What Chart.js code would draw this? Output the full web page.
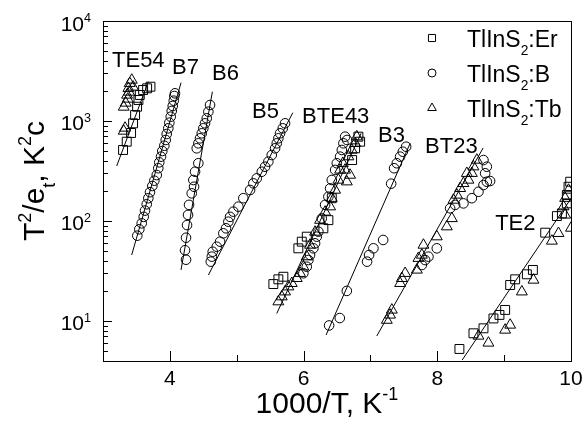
<!DOCTYPE html>
<html>
<head>
<meta charset="utf-8">
<script src="https://cdn.jsdelivr.net/npm/chart.js@4.4.0/dist/chart.umd.min.js"></script>
<style>
  html, body { margin: 0; padding: 0; background: #fff; }
  #wrap { width: 587px; height: 439px; }
</style>
</head>
<body>
<div id="wrap"><canvas id="myChart" width="587" height="439"></canvas></div>
<script>
// axes
const xTicks = [4, 6, 8, 10];
const xMinor = [5, 7, 9];
const yDecades = [10, 100, 1000, 10000];
const yExp = ['1', '2', '3', '4'];

// TlInS2:Er (squares)
const te54Er = [[3.30,513],[3.355,621],[3.42,759],[3.45,948],[3.48,1148],[3.51,1390],[3.53,1622],[3.55,1820],[3.60,2042],[3.66,2123],[3.71,2203]];
const bte43Er = [[5.548,23.4],[5.623,26.1],[5.698,27.7],[5.922,53.3],[5.973,62.1],[6.048,69.7],[6.296,84.5],[6.371,102],[6.422,169],[6.82,697],[6.846,621],[6.771,533],[6.726,407]];
const te2Er = [[8.331,5.25],[8.541,7.53],[8.691,8.45],[8.84,10.6],[8.93,11.5],[9.015,12.9],[9.09,22.9],[9.165,26.1],[9.34,29.3],[9.43,32.4],[9.614,76.4],[9.789,112],[9.864,119],[9.938,150],[9.938,182],[9.963,220],[9.988,247]];

// TlInS2:B (circles)
const b7B = [[3.513,71.3],[3.543,82.6],[3.579,94.8],[3.609,110],[3.628,127],[3.654,147],[3.678,169],[3.703,194],[3.738,224],[3.768,253],[3.804,288],[3.827,337],[3.842,386],[3.868,440],[3.887,501],[3.917,566],[3.938,646],[3.953,741],[3.977,845],[3.992,962],[4.013,1104],[4.028,1259],[4.043,1413],[4.058,1596],[4.067,1778],[4.077,1892]];
const b6B = [[4.601,1445],[4.576,1239],[4.552,1064],[4.526,948],[4.501,845],[4.477,753],[4.451,671],[4.426,598],[4.402,533],[4.426,378],[4.377,311],[4.351,257],[4.362,220],[4.327,189],[4.287,145],[4.272,115],[4.257,91],[4.242,68],[4.227,51],[4.242,41]];
const b5B = [[4.612,39.2],[4.627,44],[4.641,49.3],[4.701,55.3],[4.751,62.1],[4.80,75.3],[4.84,84.5],[4.875,98.4],[4.90,110],[4.95,124],[5.025,139],[5.099,169],[5.20,204],[5.249,238],[5.30,267],[5.375,311],[5.424,349],[5.473,392],[5.524,457],[5.574,533],[5.599,598],[5.623,671],[5.648,753],[5.689,845],[5.723,948]];
const bte43B = [[6.651,646],[6.621,697],[6.596,598],[6.572,513],[6.546,440],[6.497,378],[6.472,324],[6.422,257],[6.397,212],[6.371,175],[6.322,145],[6.272,106],[6.222,78.2],[6.198,69.7],[6.172,59.8],[6.147,53.3],[6.097,45.7],[6.072,40.7],[6.048,34.9],[5.997,30]];
const b3B = [[6.382,9.02],[6.542,10.7],[6.647,20],[6.95,39.2],[6.98,45.7],[7.045,53.3],[7.19,64.6],[7.31,236],[7.354,337],[7.395,378],[7.444,440],[7.484,493],[7.534,553]];
const bt23B = [[7.769,36.3],[7.818,40.7],[7.868,44],[7.993,53.3],[8.192,134],[8.267,145],[8.391,150],[8.517,169],[8.616,196],[8.691,229],[8.741,247],[8.691,407],[8.741,349],[8.716,300],[8.79,251]];

// TlInS2:Tb (triangles)
const te54Tb = [[3.43,2570],[3.40,2383],[3.45,2190],[3.38,2123],[3.39,1950],[3.36,1820],[3.37,1660],[3.34,1514],[3.31,1380],[3.33,851],[3.31,794]];
const bte43Tb = [[5.623,15.6],[5.674,17.5],[5.723,19.6],[5.773,22],[5.824,23.8],[5.898,26.7],[5.948,30],[5.997,34.9],[6.048,44],[6.097,57.5],[6.172,77.6],[6.247,102],[6.322,123],[6.397,139],[6.422,169],[6.472,204],[6.521,257],[6.546,324],[6.587,378],[6.647,247],[6.621,324],[6.696,288],[6.671,440],[6.721,513],[6.771,598],[6.796,697]];
const bt23Tb = [[7.245,10.2],[7.294,11.5],[7.32,12.9],[7.444,23.8],[7.47,26.7],[7.519,30],[7.694,32.4],[7.718,42.4],[7.769,45.7],[7.793,57.5],[7.993,69.7],[8.143,87.7],[8.218,106],[8.242,162],[8.293,182],[8.342,212],[8.391,238],[8.442,300],[8.466,257],[8.517,300],[8.541,349],[8.592,407]];
const te2Tb = [[8.616,7.08],[8.765,6.03],[9.015,8.13],[9.09,9.12],[9.265,19.6],[9.439,25.7],[9.714,63.1],[9.813,75.3],[9.913,115],[9.888,139],[9.913,169],[9.963,204],[10.0,85]];

// fitted lines, two ends each
const fitTE54 = [[3.205,355],[3.678,2472]];
const fitB7 = [[3.429,45.7],[4.167,2415]];
const fitB6 = [[4.167,32.4],[4.636,1963]];
const fitB5 = [[4.576,28.8],[5.839,1211]];
const fitBTE43 = [[5.599,11.9],[6.861,753]];
const fitB3 = [[6.337,7.24],[7.594,598]];
const fitBT23 = [[7.095,7.08],[8.686,537]];
const fitTE2 = [[8.372,4.07],[10.0,168]];

// group labels: text, x, y (left, baseline)
const groupLabels = [['TE54',3.135,3467],['B7',4.032,2951],['B6',4.631,2570],['B5',5.23,1072],['BTE43',5.978,955],['B3',7.115,617],['BT23',7.818,479],['TE2',8.866,81.3]];

const FONT = "'Liberation Sans', Arial, sans-serif";
const fnt = s => s + 'px ' + FONT;

// draws text with sup (1) / sub (-1) parts
function richText(ctx, parts, x, y, size, align) {
  const w = parts.map(([t, m]) => { ctx.font = fnt(m ? size * 0.6 : size); return ctx.measureText(t).width; });
  const total = w.reduce((a, b) => a + b, 0);
  let cx = align === 'center' ? x - total / 2 : align === 'right' ? x - total : x;
  ctx.textAlign = 'left';
  ctx.textBaseline = 'alphabetic';
  parts.forEach(([t, m], i) => {
    ctx.font = fnt(m ? size * 0.6 : size);
    ctx.fillText(t, cx, y + (m === 1 ? -size * 0.42 : m === -1 ? size * 0.35 : 0));
    cx += w[i];
  });
}

const decor = {
  id: 'decor',
  afterDraw(chart) {
    const ctx = chart.ctx;
    const a = chart.chartArea;
    const xs = chart.scales.x, ys = chart.scales.y;
    ctx.save();
    ctx.strokeStyle = '#000';
    ctx.fillStyle = '#000';
    ctx.lineWidth = 1;
    ctx.strokeRect(a.left + 0.5, a.top + 0.5, a.right - a.left, a.bottom - a.top);

    // x ticks, pointing in
    ctx.beginPath();
    xTicks.forEach(v => { const px = Math.round(xs.getPixelForValue(v)) + 0.5; ctx.moveTo(px, a.bottom); ctx.lineTo(px, a.bottom - 10); });
    xMinor.forEach(v => { const px = Math.round(xs.getPixelForValue(v)) + 0.5; ctx.moveTo(px, a.bottom); ctx.lineTo(px, a.bottom - 6); });
    // y ticks
    yDecades.forEach(d => {
      const py = Math.round(ys.getPixelForValue(d)) + 0.5;
      ctx.moveTo(a.left, py); ctx.lineTo(a.left + 9, py);
      for (let k = 2; k <= 9; k++) {
        const v = d / 10 * k;
        if (v < ys.min) continue;
        const q = Math.round(ys.getPixelForValue(v)) + 0.5;
        ctx.moveTo(a.left, q); ctx.lineTo(a.left + 5, q);
      }
    });
    ctx.stroke();

    // tick labels
    ctx.font = fnt(21);
    ctx.textAlign = 'center';
    xTicks.forEach(v => ctx.fillText(String(v), xs.getPixelForValue(v), 385));
    yDecades.forEach((d, i) => richText(ctx, [['10', 0], [yExp[i], 1]], 91, ys.getPixelForValue(d) + 9.5, 21, 'right'));

    // axis titles
    richText(ctx, [['1000/T, K', 0], ['-1', 1]], 327, 413, 30, 'center');
    ctx.save();
    ctx.translate(44, 181);
    ctx.rotate(-Math.PI / 2);
    richText(ctx, [['T', 0], ['2', 1], ['/e', 0], ['t', -1], [', K', 0], ['2', 1], ['c', 0]], 0, 0, 30, 'center');
    ctx.restore();

    // group labels
    groupLabels.forEach(([t, x, y]) => richText(ctx, [[t, 0]], xs.getPixelForValue(x), ys.getPixelForValue(y), 22, 'left'));

    // legend
    const legend = [['rect', ':Er'], ['circle', ':B'], ['triangle', ':Tb']];
    legend.forEach(([style, tail], i) => {
      const y = 38 + i * 35;
      ctx.fillStyle = 'rgba(0,0,0,0)';
      ctx.strokeStyle = '#000';
      Chart.helpers.drawPoint(ctx, { pointStyle: style, radius: style === 'circle' ? 4 : 5, borderWidth: 1 }, 432, y);
      ctx.fillStyle = '#000';
      richText(ctx, [['TlInS', 0], ['2', -1], [tail, 0]], 467, y + 8.5, 23, 'left');
    });
    ctx.restore();
  }
};

const pts = (data, style, r) => ({
  type: 'scatter', data, pointStyle: style, pointRadius: r, pointHoverRadius: r,
  borderColor: '#000', backgroundColor: 'rgba(0,0,0,0)', borderWidth: 1
});
const fit = data => ({
  type: 'line', data, borderColor: '#000', borderWidth: 1, pointRadius: 0, fill: false, tension: 0
});

new Chart(document.getElementById('myChart').getContext('2d'), {
  data: {
    datasets: [
      fit(fitTE54), fit(fitB7), fit(fitB6), fit(fitB5), fit(fitBTE43), fit(fitB3), fit(fitBT23), fit(fitTE2),
      pts([...te54Er, ...bte43Er, ...te2Er], 'rect', 6.3),
      pts([...b7B, ...b6B, ...b5B, ...bte43B, ...b3B, ...bt23B], 'circle', 4.8),
      pts([...te54Tb, ...bte43Tb, ...bt23Tb, ...te2Tb], 'triangle', 6.3)
    ]
  },
  options: {
    responsive: false,
    animation: false,
    devicePixelRatio: 1,
    layout: { padding: { left: 103, top: 21, right: 16, bottom: 78 } },
    plugins: { legend: { display: false }, tooltip: { enabled: false } },
    scales: {
      x: { type: 'linear', min: 3, max: 10, display: false },
      y: { type: 'logarithmic', min: 3.98, max: 10000, display: false }
    }
  },
  plugins: [decor]
});
</script>
</body>
</html>
